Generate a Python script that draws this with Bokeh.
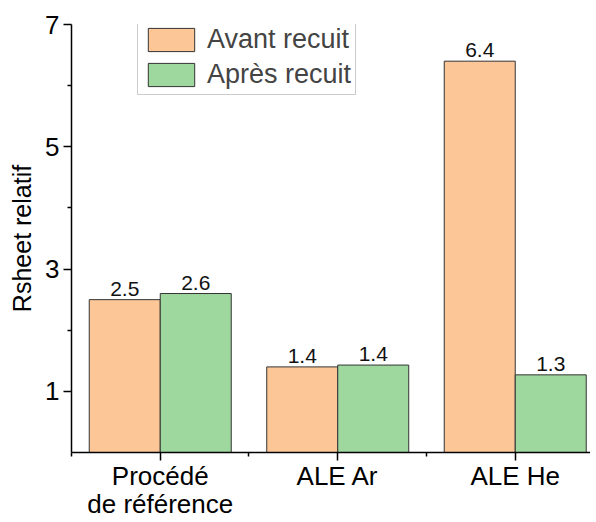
from bokeh.plotting import figure
from bokeh.models import ColumnDataSource, FixedTicker, Range1d, LabelSet, Legend, LegendItem
from bokeh.transform import dodge
from bokeh.core.properties import value
from bokeh.embed import file_html
from bokeh.resources import INLINE

categories = ["Procédé\nde référence", "ALE Ar", "ALE He"]
positions = [1, 2, 3]
avant = [2.5, 1.4, 6.4]
apres = [2.6, 1.43, 1.27]
y_ticks = [1, 3, 5, 7]
y_minor = [2, 4, 6]

src = ColumnDataSource(dict(
    x=positions,
    avant=avant,
    apres=apres,
    avant_lbl=[f"{v:.1f}" for v in avant],
    apres_lbl=[f"{v:.1f}" for v in apres],
))

FONT = "Liberation Sans"
p = figure(width=590, height=522, output_backend="svg", toolbar_location=None,
           x_range=Range1d(0.5, 3.424), y_range=Range1d(0, 7),
           min_border_left=71, min_border_top=24, min_border_right=0, min_border_bottom=67)
p.outline_line_color = None
p.xgrid.visible = False
p.ygrid.visible = False
p.background_fill_color = "white"

orange = "#FCC697"
green = "#9FD89E"
r1 = p.vbar(x=dodge("x", -0.2), top="avant", width=0.4, source=src,
            fill_color=orange, line_color="#333333", line_width=1)
r2 = p.vbar(x=dodge("x", 0.2), top="apres", width=0.4, source=src,
            fill_color=green, line_color="#333333", line_width=1)

for col, lbl, off in [("avant", "avant_lbl", -0.2), ("apres", "apres_lbl", 0.2)]:
    ls = LabelSet(x=dodge("x", off), y=col, text=lbl, source=src,
                  text_align="center", text_baseline="bottom", y_offset=4,
                  text_font=value(FONT), text_font_size="21px", text_color="#111111")
    p.add_layout(ls)

# axes
p.xaxis.ticker = FixedTicker(ticks=positions, minor_ticks=[0.5, 1.5, 2.5, 3.5])
p.xaxis.major_label_overrides = {positions[i]: categories[i] for i in range(3)}
p.yaxis.ticker = FixedTicker(ticks=y_ticks, minor_ticks=y_minor)
p.yaxis.axis_label = "Rsheet relatif"
for ax in (p.xaxis[0], p.yaxis[0]):
    ax.axis_line_color = "black"
    ax.axis_line_width = 1.5
    ax.major_tick_line_color = "black"
    ax.major_tick_line_width = 1.5
    ax.minor_tick_line_color = "black"
    ax.minor_tick_line_width = 1.5
    ax.major_tick_out = 8
    ax.major_tick_in = 0
    ax.minor_tick_out = 4
    ax.minor_tick_in = 0
    ax.major_label_text_font = FONT
    ax.major_label_text_color = "black"
    ax.axis_label_text_font = FONT
    ax.axis_label_text_font_style = "normal"
    ax.axis_label_text_color = "black"
p.xaxis.major_label_text_font_size = "26px"
p.xaxis.major_label_text_line_height = 0.95
p.xaxis.major_label_standoff = 0
p.xaxis.axis_label_standoff = 0
p.yaxis.major_label_text_font_size = "26px"
p.yaxis.major_label_standoff = 4
p.yaxis.axis_label_text_font_size = "25px"
p.yaxis.axis_label_standoff = 6

legend = Legend(items=[LegendItem(label="Avant recuit", renderers=[r1]),
                       LegendItem(label="Après recuit", renderers=[r2])],
                location=(66, 357), glyph_width=58, glyph_height=29,
                label_text_font=FONT, label_text_font_size="27px",
                label_standoff=7, padding=4, spacing=4, margin=0,
                border_line_color="#999999", border_line_width=1,
                label_height=29)
p.add_layout(legend)

open("out.html", "w").write(file_html(p, INLINE))
